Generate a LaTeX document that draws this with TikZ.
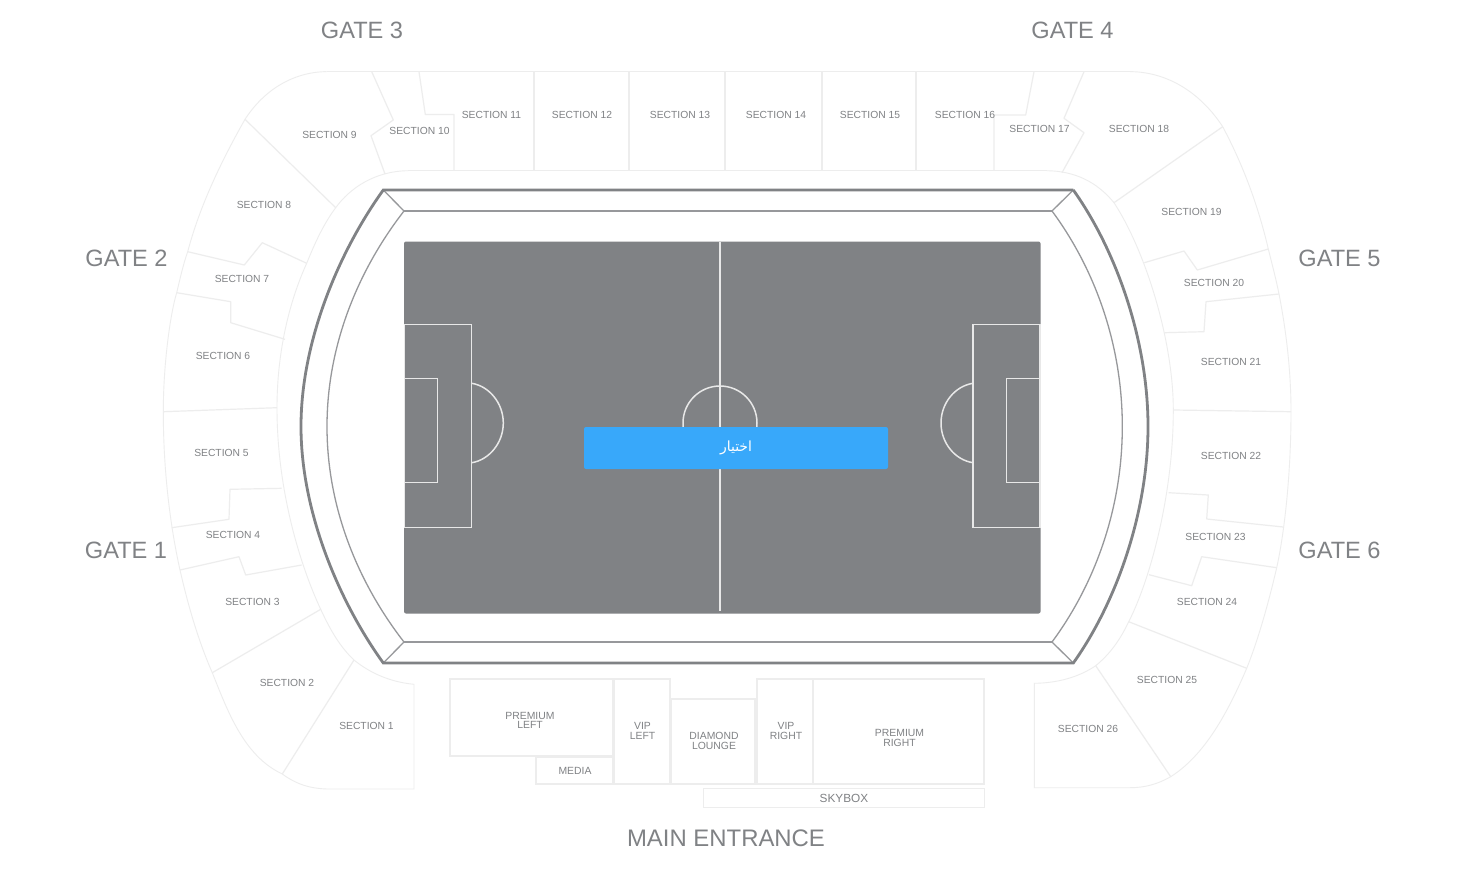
\documentclass[tikz,border=0pt]{standalone}
\usepackage{fontspec}
\setmainfont{Liberation Sans}
\newfontfamily\arabicfont[Script=Arabic]{DejaVu Sans}
\TeXXeTstate=1
\definecolor{linegray}{HTML}{EDEDED}
\definecolor{rimgray}{HTML}{808285}
\definecolor{innergray}{HTML}{97989B}
\definecolor{labelgray}{HTML}{808285}
\definecolor{pitchgray}{HTML}{808285}
\definecolor{pitchline}{HTML}{E8E8E8}
\definecolor{btnblue}{HTML}{38A8FA}
\tikzset{
  rimcurve/.style={line width=.9pt,draw=linegray},
  sectline/.style={line width=1.2pt,draw=linegray,line join=round},
  boxline/.style={line width=1.1pt,draw=linegray},
  rimouter/.style={line width=2.8pt,draw=rimgray,line join=miter},
  riminner/.style={line width=1.3pt,draw=innergray,line join=miter},
  pitchmark/.style={line width=1.5pt,draw=pitchline},
  sect/.style={font=\fontsize{10.3}{10}\selectfont,text=labelgray,inner sep=0pt,anchor=center},
  boxlabel/.style={font=\fontsize{10.4}{9.6}\selectfont,text=labelgray,inner sep=0pt,anchor=center,align=center},
  gate/.style={font=\fontsize{23.6}{24}\selectfont,text=labelgray,inner sep=0pt,anchor=center},
}
\begin{document}
\begin{tikzpicture}[x=1pt,y=-1pt]
\useasboundingbox (0,0) rectangle (1464,868);
\fill[white] (0,0) rectangle (1464,868);

% outer and inner edges of the stands
\draw[rimcurve] (326.7,71.6) -- (1130,71.6);
\draw[rimcurve] (408.3,170.7) -- (1046.7,170.7);
\draw[rimcurve] (326.7,71.6) .. controls (293,72) and (264,90) .. (245,119.3)
  .. controls (222,160) and (200,205) .. (187.7,251.7)
  .. controls (183,265) and (180,279) .. (176.7,292.7)
  .. controls (170,315) and (163.3,365) .. (163.3,411.7)
  .. controls (163.3,470) and (170,525) .. (180,570)
  .. controls (188,605) and (198,640) .. (212.3,672.7)
  .. controls (228,712) and (244,756) .. (282.3,774)
  .. controls (296,784) and (310,789) .. (330,789)
  -- (414,789) -- (414,684.3)
  .. controls (390,682) and (370,673) .. (354,660)
  .. controls (338,645) and (328,625) .. (320.7,609.3)
  .. controls (300,565) and (277,490) .. (277,408)
  .. controls (277,350) and (290,300) .. (306.7,263.3)
  .. controls (316,240) and (325,222) .. (335.7,207.7)
  .. controls (350,188) and (375,171) .. (408.3,170.7);
\draw[rimcurve] (1130,71.6) .. controls (1170,72) and (1202,95) .. (1222.7,126.7)
  .. controls (1243,165) and (1258,205) .. (1268.3,249)
  .. controls (1272,264) and (1276,279) .. (1279,294)
  .. controls (1286,330) and (1291,370) .. (1291,411.7)
  .. controls (1291,465) and (1286,525) .. (1276.7,567.7)
  .. controls (1268,605) and (1258,640) .. (1246.7,668.3)
  .. controls (1228,712) and (1205,755) .. (1170.7,776.7)
  .. controls (1158,784) and (1145,787.7) .. (1130,787.7)
  -- (1034.3,787.7) -- (1034.3,683.3)
  .. controls (1058,683) and (1079,677) .. (1095.7,665.7)
  .. controls (1110,654) and (1120,640) .. (1128.7,621.7)
  .. controls (1150,580) and (1173.3,495) .. (1173.3,410)
  .. controls (1173.3,340) and (1145,250) .. (1114,202.7)
  .. controls (1097,182) and (1075,171) .. (1046.7,170.7);

% section dividers
\draw[sectline] (371.7,71.7) -- (393.3,120) -- (371,135.7) -- (385,174);
\draw[sectline] (419,71.7) -- (425.3,114.5) -- (454,114.5) -- (454,170.7);
\draw[sectline] (245,119.3) -- (335.7,207.7);
\draw[sectline] (187.7,251.7) -- (244.3,265) -- (262.3,242.7) -- (306.7,263.3);
\draw[sectline] (176.7,292.7) -- (230.7,301.7) -- (230.7,322.7) -- (285,339.3);
\draw[sectline] (163.3,411.7) -- (277,407.7);
\draw[sectline] (171.7,527.7) -- (229,519.3) -- (230,489.3) -- (281.7,488.3);
\draw[sectline] (180,570) -- (239,556.7) -- (245.7,575) -- (301.7,565);
\draw[sectline] (212.3,672.7) -- (320.7,609.3);
\draw[sectline] (282.3,774) -- (354,660);
\foreach \xx in {534,629,725,822,916}{\draw[sectline] (\xx,71.6) -- (\xx,170.7);}
\draw[sectline] (994,170.7) -- (994,115) -- (1025.7,115) -- (1034,71.7);
\draw[sectline] (1084,71.7) -- (1064,118.3) -- (1084,132.7) -- (1062,172.7);
\draw[sectline] (1222.7,126.7) -- (1114,202.7);
\draw[sectline] (1268.3,249) -- (1197.3,270) -- (1184,251) -- (1144.3,262.7);
\draw[sectline] (1279,294) -- (1206,301.7) -- (1204,331.7) -- (1164.3,332.7);
\draw[sectline] (1291,411.7) -- (1173.3,410);
\draw[sectline] (1168.7,492.7) -- (1208.3,495) -- (1206.7,519) -- (1283.3,527);
\draw[sectline] (1276.7,567.7) -- (1201.7,556.7) -- (1191.7,585.7) -- (1149,574.7);
\draw[sectline] (1246.7,668.3) -- (1128.7,621.7);
\draw[sectline] (1170.7,776.7) -- (1095.7,665.7);

% lower boxes
\draw[boxline] (450,679) rectangle (613,756);
\draw[boxline] (536,757) rectangle (613,784);
\draw[boxline] (614,679) rectangle (670,784);
\draw[boxline] (671,699) rectangle (755,784);
\draw[boxline] (757,679) rectangle (813,784);
\draw[boxline] (813,679) rectangle (984,784);
\draw[boxline,line width=.9pt] (703,788) rectangle (984,807);

% stadium rim
\draw[riminner] (404,211) -- (1052,211);
\draw[riminner] (404,642) -- (1052,642);
\draw[riminner] (404,211) .. controls (362,265) and (327,340) .. (327,426.5) .. controls (327,513) and (362,588) .. (404,642);
\draw[riminner] (1052,211) .. controls (1092,265) and (1122.3,340) .. (1122.3,426.5) .. controls (1122.3,513) and (1092,588) .. (1052,642);
\draw[riminner] (383.3,190) -- (404,211);
\draw[riminner] (1073.3,190) -- (1052,211);
\draw[riminner] (383.3,663) -- (404,642);
\draw[riminner] (1073.3,663) -- (1052,642);
\draw[rimouter] (1073.3,190) -- (383.3,190) .. controls (340,250) and (301,340) .. (301,426.5) .. controls (301,513) and (340,603) .. (383.3,663) -- (1073.3,663) .. controls (1116,603) and (1148,513) .. (1148,426.5) .. controls (1148,340) and (1116,250) .. (1073.3,190);

% pitch
\fill[pitchgray,rounded corners=2pt] (404,241.5) rectangle (1040.5,613.5);
\draw[pitchmark] (720,241.5) -- (720,611);
\draw[pitchmark] (720,423) circle[radius=37];
\draw[pitchmark] (404.7,324.5) rectangle (471.7,527.5);
\draw[pitchmark] (404.7,378.3) rectangle (437.7,482.7);
\draw[pitchmark] (471.7,383.3) .. controls (489,386) and (503.3,403) .. (503.3,423) .. controls (503.3,443) and (489,460) .. (471.7,462.7);
\draw[pitchmark] (1039.8,324.5) rectangle (973,527.5);
\draw[pitchmark] (1039.8,378.3) rectangle (1006.7,482.7);
\draw[pitchmark] (973,383.3) .. controls (955,386) and (941,403) .. (941,423) .. controls (941,443) and (955,460) .. (973,462.7);

% button
\node[fill=btnblue,rounded corners=2pt,minimum width=304pt,minimum height=42pt,inner sep=0pt,text=white,font=\arabicfont\fontsize{14}{16}\selectfont] (btn) at (736,448) {\beginR اختيار\endR};

% section labels
\node[sect] (s1) at (366.5,726) {SECTION 1};
\node[sect] (s2) at (287,683) {SECTION 2};
\node[sect] (s3) at (252.5,601.5) {SECTION 3};
\node[sect] (s4) at (233,534.5) {SECTION 4};
\node[sect] (s5) at (221.5,452.5) {SECTION 5};
\node[sect] (s6) at (223,355.5) {SECTION 6};
\node[sect] (s7) at (242,279) {SECTION 7};
\node[sect] (s8) at (264,204.5) {SECTION 8};
\node[sect] (s9) at (329.5,134.5) {SECTION 9};
\node[sect] (s10) at (419.5,130.5) {SECTION 10};
\node[sect] (s11) at (491.5,114.5) {SECTION 11};
\node[sect] (s12) at (582,114.5) {SECTION 12};
\node[sect] (s13) at (680,114.5) {SECTION 13};
\node[sect] (s14) at (776,114.5) {SECTION 14};
\node[sect] (s15) at (870,114.5) {SECTION 15};
\node[sect] (s16) at (965,114.5) {SECTION 16};
\node[sect] (s17) at (1039.5,129) {SECTION 17};
\node[sect] (s18) at (1139,129) {SECTION 18};
\node[sect] (s19) at (1191.5,212) {SECTION 19};
\node[sect] (s20) at (1214,283) {SECTION 20};
\node[sect] (s21) at (1231,362) {SECTION 21};
\node[sect] (s22) at (1231,456) {SECTION 22};
\node[sect] (s23) at (1215.5,536.5) {SECTION 23};
\node[sect] (s24) at (1207,601.5) {SECTION 24};
\node[sect] (s25) at (1167,680) {SECTION 25};
\node[sect] (s26) at (1088,729) {SECTION 26};

% box labels
\node[boxlabel] (pl) at (530,720.5) {PREMIUM\\LEFT\hspace{6pt}};
\node[boxlabel] (media) at (575,771) {MEDIA};
\node[boxlabel] (vl) at (642.5,731) {VIP\\LEFT};
\node[boxlabel] (dl) at (714,741) {DIAMOND\\LOUNGE};
\node[boxlabel] (vr) at (786,731) {VIP\\RIGHT};
\node[boxlabel] (pr) at (899.5,738) {PREMIUM\\RIGHT\hspace{3pt}};
\node[boxlabel,font=\fontsize{11.8}{12}\selectfont] (sky) at (844,798) {SKYBOX};

% gates
\node[gate] (g3) at (362,30) {GATE 3};
\node[gate] (g4) at (1072.5,30) {GATE 4};
\node[gate] (g2) at (126.5,258) {GATE 2};
\node[gate] (g5) at (1339.5,258) {GATE 5};
\node[gate] (g1) at (126,550) {GATE 1};
\node[gate] (g6) at (1339.5,550) {GATE 6};
\node[gate,font=\fontsize{23.9}{25}\selectfont] (me) at (726,838) {MAIN ENTRANCE};
\end{tikzpicture}
\end{document}
